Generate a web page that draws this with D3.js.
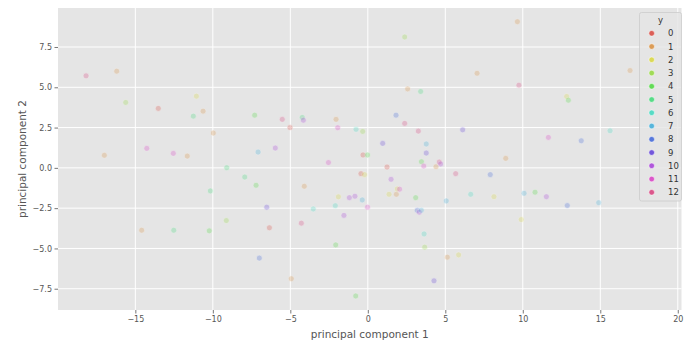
<!DOCTYPE html>
<html>
<head>
<meta charset="utf-8">
<script src="https://cdn.jsdelivr.net/npm/d3@7"></script>
<style>
  html, body { margin: 0; padding: 0; background: #ffffff; }
  svg { display: block; font-family: "DejaVu Sans", sans-serif; }
</style>
</head>
<body>
<svg id="chart" width="696" height="342"></svg>
<script>
// Class labels shown in the legend
const classes = [0, 1, 2, 3, 4, 5, 6, 7, 8, 9, 10, 11, 12];

// Projected samples: first and second principal components with their class
const pc1 = [
  -18.18, -16.20, -15.62, -13.52, -11.06, -11.26, -14.26, -17.00, -12.55, -11.65,
  -14.59, -12.52, -10.63, -7.30, -5.52, -4.23, -4.16, -2.05, 1.82, -9.97,
  -5.02, -1.94, -0.76, -0.33, -7.08, -5.97, 0.96, -0.31, -0.02, -2.54,
  1.24, -9.10, -7.94, -0.44, -0.21, 1.50, -7.21, -4.10, -10.16, -1.90,
  -1.19, -0.83, -0.36, -2.10, -0.02, 1.37, 1.84, 1.90, 2.05, -6.52,
  -3.52, -1.54, -9.13, -10.23, -6.35, -4.29, -2.07, -7.00, -4.94, -0.78,
  9.65, 2.38, 7.05, 9.75, 2.57, 3.41, 12.83, 12.94, 2.38, 3.26,
  6.12, 3.77, 3.77, 11.65, 13.77, 15.63, 8.90, 3.46, 3.61, 4.40,
  4.61, 4.70, 5.67, 7.90, 3.09, 3.19, 3.32, 3.45, 5.06, 6.64,
  8.14, 10.08, 10.79, 11.52, 12.87, 14.90, 9.90, 3.63, 3.67, 5.13,
  5.86, 4.27, 16.92
];
const pc2 = [
  5.71, 6.00, 4.06, 3.69, 4.45, 3.21, 1.21, 0.78, 0.90, 0.73,
  -3.87, -3.87, 3.52, 3.27, 3.01, 3.13, 2.96, 3.01, 3.27, 2.16,
  2.50, 2.49, 2.39, 2.26, 0.98, 1.23, 1.52, 0.80, 0.80, 0.33,
  0.05, 0.01, -0.57, -0.36, -0.42, -0.71, -1.08, -1.14, -1.43, -1.80,
  -1.85, -1.76, -1.99, -2.35, -2.44, -1.64, -1.64, -1.31, -1.32, -2.44,
  -2.55, -2.95, -3.27, -3.91, -3.72, -3.43, -4.78, -5.60, -6.88, -7.95,
  9.07, 8.12, 5.87, 5.13, 4.90, 4.74, 4.43, 4.20, 2.76, 2.28,
  2.36, 1.48, 0.92, 1.89, 1.68, 2.30, 0.59, 0.38, 0.11, 0.07,
  0.36, 0.24, -0.36, -0.42, -1.85, -2.63, -2.75, -2.63, -2.05, -1.64,
  -1.79, -1.58, -1.51, -1.79, -2.34, -2.16, -3.21, -4.10, -4.92, -5.54,
  -5.40, -7.01, 6.04
];
const label = [
  12, 1, 3, 0, 2, 5, 11, 1, 11, 1,
  1, 5, 1, 4, 12, 5, 10, 1, 8, 1,
  0, 11, 6, 3, 7, 10, 9, 0, 4, 11,
  0, 5, 5, 0, 2, 10, 4, 1, 5, 2,
  10, 10, 7, 6, 11, 2, 1, 2, 11, 9,
  6, 10, 3, 4, 0, 12, 4, 8, 1, 4,
  1, 3, 1, 12, 1, 5, 2, 4, 12, 12,
  9, 7, 9, 11, 8, 6, 1, 4, 11, 1,
  12, 10, 12, 8, 4, 8, 10, 7, 7, 6,
  2, 7, 4, 10, 8, 7, 2, 6, 3, 1,
  2, 9, 1
];

const xTicks = [-15, -10, -5, 0, 5, 10, 15, 20];
const yTicks = [-7.5, -5.0, -2.5, 0.0, 2.5, 5.0, 7.5];

const plot = { left: 58, right: 681.5, top: 8, bottom: 310 };

const svg = d3.select("#chart");

// hls palette: evenly spaced hues, lightness 0.6, saturation 0.65
const palette = classes.map((c, i) => d3.hsl(((i / classes.length + 0.01) % 1) * 360, 0.65, 0.6).formatHex());
const color = d3.scaleOrdinal().domain(classes).range(palette);

const x = d3.scaleLinear().domain([-19.99, 20.24]).range([plot.left, plot.right]);
const y = d3.scaleLinear().domain([-8.82, 9.92]).range([plot.bottom, plot.top]);

// panel background
svg.append("rect")
  .attr("x", plot.left).attr("y", plot.top)
  .attr("width", plot.right - plot.left).attr("height", plot.bottom - plot.top)
  .attr("fill", "#e5e5e5");

// grid
const grid = svg.append("g");
grid.selectAll("line.vx").data(xTicks).join("line")
  .attr("x1", d => x(d)).attr("x2", d => x(d))
  .attr("y1", plot.top).attr("y2", plot.bottom)
  .attr("stroke", "#ffffff").attr("stroke-width", 1);
grid.selectAll("line.hy").data(yTicks).join("line")
  .attr("y1", d => y(d)).attr("y2", d => y(d))
  .attr("x1", plot.left).attr("x2", plot.right)
  .attr("stroke", "#ffffff").attr("stroke-width", 1);

const fmtY = d => (d < 0 ? "\u2212" : "") + Math.abs(d).toFixed(1);
const fmtX = d => (d < 0 ? "\u2212" : "") + Math.abs(d);

// axes
const xAxis = svg.append("g")
  .attr("transform", `translate(0,${plot.bottom})`)
  .call(d3.axisBottom(x).tickValues(xTicks).tickFormat(fmtX).tickSize(3.5).tickPadding(2.5));
const yAxis = svg.append("g")
  .attr("transform", `translate(${plot.left},0)`)
  .call(d3.axisLeft(y).tickValues(yTicks).tickFormat(fmtY).tickSize(3.5).tickPadding(2.5));
[xAxis, yAxis].forEach(a => {
  a.select(".domain").remove();
  a.selectAll(".tick line").attr("stroke", "#555555").attr("stroke-width", 0.8);
  a.selectAll(".tick text").attr("fill", "#555555")
    .attr("font-size", 8).attr("font-family", "DejaVu Sans, sans-serif");
});

// scatter points
const pts = pc1.map((v, i) => ({ x: v, y: pc2[i], c: label[i] }));
svg.append("g").selectAll("circle").data(pts).join("circle")
  .attr("cx", d => x(d.x)).attr("cy", d => y(d.y)).attr("r", 3)
  .attr("fill", d => color(d.c))
  .attr("stroke", "#ffffff").attr("stroke-width", 0.6)
  .attr("opacity", 0.3);

// axis titles
svg.append("text")
  .attr("x", (plot.left + plot.right) / 2).attr("y", 337.5)
  .attr("text-anchor", "middle").attr("fill", "#555555")
  .attr("font-size", 10.5).text("principal component 1");
svg.append("text")
  .attr("transform", `translate(25.5,${(plot.top + plot.bottom) / 2}) rotate(-90)`)
  .attr("text-anchor", "middle").attr("fill", "#555555")
  .attr("font-size", 10.5).text("principal component 2");

// legend
const lg = svg.append("g");
const lgBox = { x: 639.5, y: 12.5, w: 42, h: 188.5 };
lg.append("rect")
  .attr("x", lgBox.x).attr("y", lgBox.y).attr("width", lgBox.w).attr("height", lgBox.h)
  .attr("rx", 2).attr("fill", "#e5e5e5").attr("fill-opacity", 0.8)
  .attr("stroke", "#cccccc").attr("stroke-width", 0.8);
lg.append("text")
  .attr("x", 660.5).attr("y", 23.2)
  .attr("text-anchor", "middle").attr("fill", "#333333")
  .attr("font-size", 8.5).text("y");
const rowY = i => 33.3 + i * 13.25;
lg.selectAll("circle").data(classes).join("circle")
  .attr("cx", 651.7).attr("cy", (d, i) => rowY(i)).attr("r", 2.8)
  .attr("fill", d => color(d)).attr("stroke", "#ffffff").attr("stroke-width", 0.5);
lg.selectAll("text.item").data(classes).join("text")
  .attr("class", "item")
  .attr("x", 668).attr("y", (d, i) => rowY(i) + 3.1)
  .attr("fill", "#333333").attr("font-size", 8.5)
  .text(d => d);
</script>
</body>
</html>
